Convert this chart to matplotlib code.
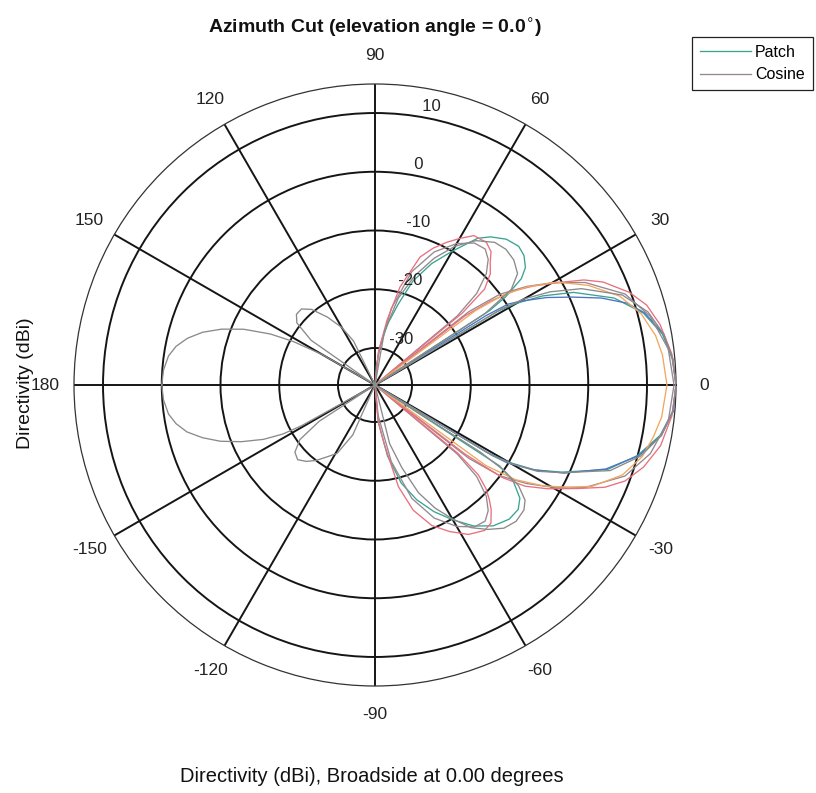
import numpy as np
import matplotlib
matplotlib.use("Agg")
import matplotlib.pyplot as plt

plt.rcParams['font.family'] = ['Liberation Sans', 'DejaVu Sans']

# ---------------- data (angles in degrees, directivity in dBi) ----------------
R_MIN = -36.3
R_MAX = 14.94

ring_values = [-30, -20, -10, 0, 10]
angle_ticks = [0, 30, 60, 90, 120, 150, 180, 210, 240, 270, 300, 330]
angle_labels = ['0', '30', '60', '90', '120', '150', '180', '-150', '-120', '-90', '-60', '-30']

teal_ang = [-90, -85, -80, -75, -70, -65, -60, -55, -50, -45, -41, -38, -35, -33, -31.5,
            -31, -30, -28, -25, -20, -15, -10, -5, 0, 5, 10, 15, 20, 25, 28, 30, 31, 31.5,
            33, 34, 36, 38, 41, 44, 48, 52, 55, 60, 65, 70, 74, 78, 82, 86, 90]
teal_db = [-36.3, -30, -24, -19, -15.5, -12.5, -9.8, -7, -5, -4, -4, -5, -7.5, -11, -36.3,
           -14, -10, -5.5, -1.2, 5.8, 10.0, 13.0, 14.6, 14.94, 14.5, 13.4, 11.0, 7.0, 1.0, -4.0, -8.5, -12, -36.3,
           -13, -9.5, -5.5, -3.8, -2.7, -2.3, -2.9, -4.3, -5.8, -10.0, -13.5, -17.5, -22, -25.5, -29, -33, -36.3]

blue_ang = [-31.5, -31, -30.5, -28, -25, -20, -15, -10, -5, 0, 5, 10, 15, 18, 21, 24, 27, 30, 31.3, 32, 32.5]
blue_db = [-36.3, -13, -10.2, -5.5, -0.8, 5.5, 10.2, 13.2, 14.7, 14.94, 14.6, 13.6, 11.2, 8.8, 5.0, 0.5, -3.5, -7.8, -9.8, -14, -36.3]

gray_ang = [-180, -176, -172, -169, -166, -163, -160, -157, -154, -152, -151, -149, -147, -144, -140, -136, -132,
            -128, -124, -119, -114, -110, -80, -76, -72, -68, -64, -60, -56, -52, -48, -44, -40,
            -37.5, -35, -33.5, -32.5, -32, -31, -30, -28, -25, -20, -15, -10, -5, 0, 5, 10, 15,
            20, 25, 28, 30, 31, 31.8, 33, 35, 38, 42, 46, 50, 55, 60, 65, 70, 75, 80, 84, 110,
            116, 120, 125, 130, 134, 138, 141.5, 145, 148, 150, 152, 154, 157, 160, 163, 166, 169, 172, 176, 180]
gray_db = [0.0, -0.2, -0.8, -1.8, -3.3, -5.6, -8.3, -11.6, -15.2, -18.5, -22, -36.3, -25, -20.5, -18.5, -18.0, -18.8,
           -20, -21.5, -23, -27, -36.3, -36.3, -26, -21.5, -16.5, -13, -10, -7, -5.1, -3.5, -2.9, -3.2,
           -4.1, -6.5, -10, -15, -36.3, -13, -9.5, -5, -1.0, 6.3, 10.5, 13.2, 14.6, 14.94, 14.6, 13.6, 11.8,
           8.5, 2.5, -2.5, -7, -11, -36.3, -14, -8, -5.5, -4.5, -4.2, -4.6, -6.3, -9.0, -12.5, -16.5, -21, -27, -36.3, -36.3,
           -28, -25, -22.2, -19.5, -18.3, -18.3, -19.3, -23, -36.3, -26, -20.5, -16.5, -12, -8.5, -5.6, -3.4, -1.8, -0.8, -0.2, 0.0]

mauve_ang = [-90, -84, -78, -72, -66, -60, -55, -51, -48, -45, -42, -40, -39, -38, -36, -33, -30, -26,
             -20, -14, -7, 0, 7, 14, 20, 26, 30, 33, 36, 38, 39, 40, 42, 45, 48, 51, 55, 60, 66, 72, 78, 84, 90]
mauve_db = [-36.3, -31, -23, -16, -11.5, -8.5, -6.8, -6.5, -7.5, -9.5, -13, -18, -36.3, -16, -10, -5.5, -1.5, 3.5,
            9, 12, 14, 14.6, 14, 12, 9, 3.5, -1.5, -5.5, -10, -16, -36.3, -18, -13, -9.5, -7.5, -6.5, -6.8, -8.5, -11.5, -16, -23, -31, -36.3]

red_ang = [-90, -85, -81, -77, -73, -68, -63, -58, -53, -50, -47, -45, -43, -41, -39.5, -38.5,
           -37.5, -36, -34, -31, -27, -24, -21, -17, -12, -6, 0, 6, 12, 16.4, 20, 24.3, 26.7, 29.3,
           32, 34, 36, 37.5, 38.5, 39.5, 41.2, 44, 46.7, 49, 52, 56.5, 60, 63.3, 67, 70.6, 75.7, 79.5, 84, 90]
red_db = [-36.3, -30, -26, -18.5, -14, -10.5, -8.3, -6.3, -5.3, -5.6, -7.3, -8.8, -10.5, -13, -18, -36.3,
          -17, -9.5, -5.5, -2.0, 2.5, 6.5, 9.3, 11.5, 13.4, 14.5, 14.94, 14.5, 13.3, 11.9, 9.8, 6.3, 3.5, -0.7,
          -4.5, -7.5, -12, -17, -36.3, -17, -11.5, -9, -7.7, -6.2, -5.5, -5.8, -7.5, -9.1, -11, -13.2, -19.1, -25.1, -30.5, -36.3]

orange_ang = [-37, -36, -34, -31, -28, -25, -20, -15, -10.6, -6.4, 0, 6, 10, 15, 20, 25, 29.5, 32.8, 35, 36.5, 37]
orange_db = [-36.3, -13, -7.5, -3, 0.8, 4.5, 8.5, 10.8, 11.9, 12.8, 13.4, 12.9, 12.2, 10.6, 8.0, 3.8, -0.7, -5.5, -9.5, -15, -36.3]

# ---------------- figure ----------------
W, H = 816, 793
fig = plt.figure(figsize=(W / 100, H / 100), dpi=100)
fig.patch.set_facecolor('white')
cx, cy, rad = 375, 385, 301
ax = fig.add_axes([(cx - rad) / W, (H - cy - rad) / H, 2 * rad / W, 2 * rad / H], projection='polar')
ax.set_facecolor('white')
ax.set_ylim(R_MIN, R_MAX)
ax.set_yticks(ring_values)
ax.set_yticklabels([])
ax.set_xticks(np.deg2rad(angle_ticks))
ax.set_xticklabels([])
ax.grid(True, color='#151515', linewidth=1.4, linestyle='-')
ax.spines['polar'].set_color('#333333')
ax.spines['polar'].set_linewidth(0.9)
ax.set_axisbelow(True)

lw = 0.95
l_teal, = ax.plot(np.deg2rad(teal_ang), teal_db, color='#3aa393', lw=lw, zorder=3)
ax.plot(np.deg2rad(blue_ang), blue_db, color='#4a74c4', lw=lw, zorder=3)
l_mauve, = ax.plot(np.deg2rad(mauve_ang), mauve_db, color='#968890', lw=lw, zorder=3)
ax.plot(np.deg2rad(red_ang), red_db, color='#e8707f', lw=lw, zorder=3)
ax.plot(np.deg2rad(orange_ang), orange_db, color='#f0a860', lw=lw, zorder=3)
ax.plot(np.deg2rad(gray_ang), gray_db, color='#8a8a8a', lw=lw, zorder=3)

# angle labels
r_lab = R_MIN + 1.095 * (R_MAX - R_MIN)
for a, s in zip(angle_ticks, angle_labels):
    ax.text(np.deg2rad(a), r_lab, s, ha='center', va='center', fontsize=12.5, color='#222222')

# ring labels
for v in ring_values:
    ax.text(np.deg2rad(82), v + 0.3, '  ' + str(v), ha='left', va='bottom', fontsize=12, color='#222222')

fig.text(cx / W, 1 - 28 / H, 'Azimuth Cut (elevation angle = 0.0$^{\\circ}$)', ha='center', va='center',
         fontsize=14, fontweight='bold', color='#111111')
fig.text(25 / W, 1 - 383 / H, 'Directivity (dBi)', rotation=90, ha='center', va='center', fontsize=14, color='#111111')
fig.text(372 / W, 1 - 777 / H, 'Directivity (dBi), Broadside at 0.00 degrees', ha='center', va='center',
         fontsize=14.5, color='#111111')

leg = ax.legend([l_teal, l_mauve], ['Patch', 'Cosine'], loc='upper left',
                bbox_to_anchor=(692 / W, 1 - 37 / H), bbox_transform=fig.transFigure,
                fancybox=False, edgecolor='#222222', framealpha=1, fontsize=11.5,
                handlelength=3.2, borderpad=0.5, labelspacing=0.45, handletextpad=0.25, borderaxespad=0)
leg.get_frame().set_linewidth(0.9)

fig.savefig('out.png', dpi=100, facecolor='white')
